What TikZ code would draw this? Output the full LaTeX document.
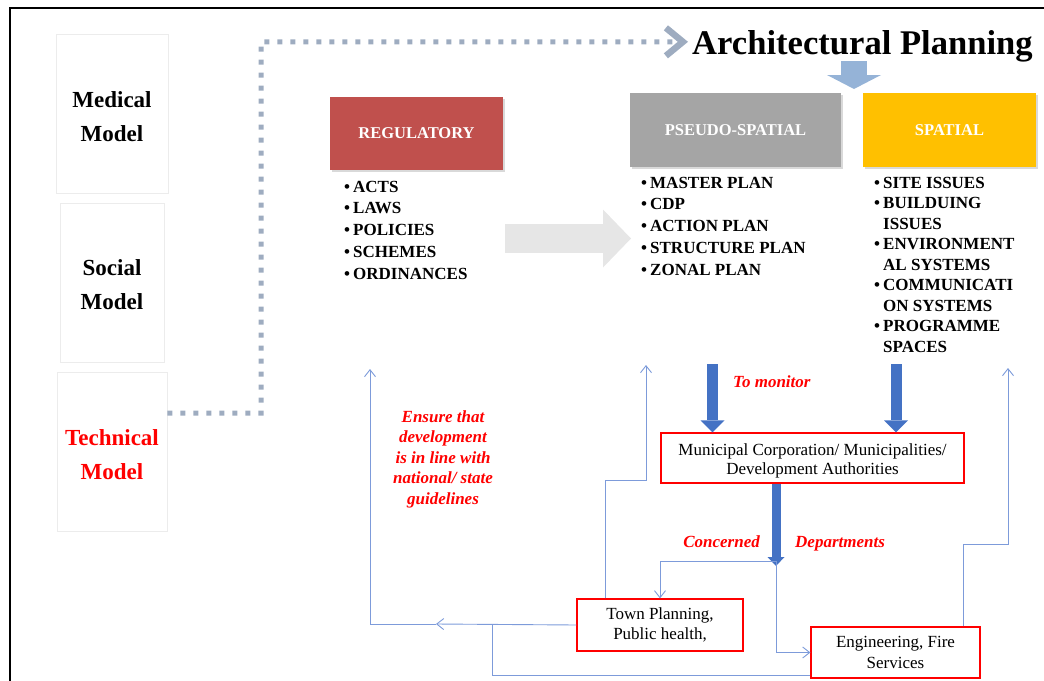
\documentclass[tikz,border=0pt]{standalone}
\usepackage{fontspec}
\setmainfont{Liberation Serif}
\usetikzlibrary{arrows.meta,shadows}
\definecolor{regred}{RGB}{192,80,77}
\definecolor{psgray}{RGB}{165,165,165}
\definecolor{spgold}{RGB}{255,192,0}
\definecolor{dotblue}{RGB}{158,172,192}
\definecolor{ltblue}{RGB}{149,179,215}
\definecolor{arrblue}{RGB}{68,114,196}
\definecolor{arrdark}{RGB}{47,82,143}
\definecolor{thinblue}{RGB}{125,155,218}
\definecolor{boxgray}{RGB}{236,236,236}
\definecolor{arrgray}{RGB}{230,230,230}
\newcommand{\bul}{\makebox[9pt][l]{\textbullet}}
\newcommand{\ind}{\hspace*{9pt}}
\newcommand{\fr}{\rule{0pt}{12pt}}
\begin{document}
\begin{tikzpicture}[x=1pt,y=-1pt,
  modelbox/.style={draw=boxgray, line width=0.8pt, font=\fontsize{23}{34}\selectfont\bfseries, align=center, inner sep=0pt, minimum height=159pt},
  catbox/.style={inner sep=0pt, text=white, font=\fontsize{16.5}{20}\selectfont\bfseries, drop shadow={shadow xshift=1.5pt, shadow yshift=-2pt, opacity=0.3}},
  bullist/.style={inner sep=0pt, anchor=north west, align=left, font=\fontsize{17}{21.7}\selectfont\bfseries},
  redbox/.style={draw=red, line width=1.2pt, inner sep=0pt, align=center, font=\fontsize{17}{20.5}\selectfont},
  redlabel/.style={text=red, inner sep=0pt, font=\fontsize{17}{20.5}\selectfont\bfseries\itshape},
  conn/.style={draw=thinblue, line width=0.9pt},
  tip/.style={-{Straight Barb[length=7pt,width=11pt]}},
  dotline/.style={draw=dotblue, line width=5pt, dash pattern=on 5pt off 8pt},
]
\useasboundingbox (0,0) rectangle (1044,680);
% frame
\draw[line width=2.5pt] (10,681) -- (10,8) -- (1045,8);

% model boxes
\node[modelbox, minimum width=112pt] (med) at (112,113.5) {\rule{0pt}{22pt}Medical\\Model};
\node[modelbox, minimum width=104pt] (soc) at (112,282.5) {\rule{0pt}{21pt}Social\\Model};
\node[modelbox, minimum width=110pt, text=red] (tech) at (112,452) {\rule{0pt}{21pt}Technical\\Model};

% title
\node[inner sep=0pt, anchor=base west, font=\fontsize{34.6}{40}\selectfont\bfseries] (title) at (692,54) {Architectural Planning};

% dotted connector
\coordinate (dtop) at (261,42);
\draw[dotline, -{Straight Barb[length=17pt,width=28pt,line width=6.5pt]}]
  ([yshift=39pt]tech.east) -| (dtop) -- ([xshift=-4pt,yshift=4pt]title.west);

% light blue arrow under title
\coordinate (ttop) at (854,61);
\coordinate (tbot) at (854,89);
\draw[ltblue, line width=26pt, -{Triangle[length=14pt,width=54pt,line width=0pt]}] (ttop) -- (tbot);

% category boxes
\node[catbox, fill=regred, minimum width=173pt, minimum height=73pt] (reg) at (416.5,133.5) {REGULATORY};
\node[catbox, fill=psgray, minimum width=211pt, minimum height=74pt] (pseudo) at (735.5,130) {PSEUDO-SPATIAL};
\node[catbox, fill=spgold, minimum width=173pt, minimum height=74pt] (spat) at (949.5,130) {SPATIAL};

% lists
\node[bullist] (reglist) at (344,180) {\fr\bul ACTS\\\bul LAWS\\\bul POLICIES\\\bul SCHEMES\\\bul ORDINANCES};
\node[bullist] (pslist) at (641,176) {\fr\bul MASTER PLAN\\\bul CDP\\\bul ACTION PLAN\\\bul STRUCTURE PLAN\\\bul ZONAL PLAN};
\node[bullist, font=\fontsize{17}{20.5}\selectfont\bfseries] (splist) at (874,176) {\fr\bul SITE ISSUES\\\bul BUILDUING\\\ind ISSUES\\\bul ENVIRONMENT\\\ind AL SYSTEMS\\\bul COMMUNICATI\\\ind ON SYSTEMS\\\bul PROGRAMME\\\ind SPACES};

% gray arrow
\coordinate (gst) at (505,238.5);
\coordinate (gen) at (631,238.5);
\draw[arrgray, line width=29pt, -{Triangle[length=28pt,width=58pt,line width=0pt]}] (gst) -- (gen);

% municipal and department boxes
\node[redbox, minimum width=303pt, minimum height=50pt, font=\fontsize{17}{19.5}\selectfont] (mun) at (812.5,458) {\rule{0pt}{17.5pt}Municipal Corporation/ Municipalities/\\Development Authorities};
\node[redbox, minimum width=166pt, minimum height=52pt] (town) at (660,625) {Town Planning,\\Public health,};
\node[redbox, minimum width=169pt, minimum height=51pt] (eng) at (895.5,652.5) {Engineering, Fire\\Services};

% blue arrows
\coordinate (mon1) at (712.5,364);
\coordinate (mon2) at (896,364);
\draw[arrblue, line width=11pt, -{Triangle[length=12pt,width=24pt,line width=0pt]}] (mon1) -- ([xshift=-100pt]mun.north);
\draw[arrblue, line width=11pt, -{Triangle[length=12pt,width=24pt,line width=0pt]}] (mon2) -- ([xshift=83.5pt]mun.north);
\coordinate (a3tip) at (776,566);
\coordinate (deptip) at (776,561);
\draw[arrblue, line width=9pt, -{Triangle[length=9pt,width=17pt,line width=0pt]}] ([xshift=-36.5pt]mun.south) -- (a3tip);

% labels
\node[redlabel, anchor=base west] (lmon) at (733,387) {To monitor};
\node[redlabel, anchor=base east] (lcon) at (760,547) {Concerned};
\node[redlabel, anchor=base west] (ldep) at (795,547) {Departments};
\node[redlabel, align=center, anchor=north] (lens) at (443,410) {\fr Ensure that\\development\\is in line with\\national/ state\\guidelines};

% thin connectors
\coordinate (m1) at (436,624);
\coordinate (m2) at (492,624);
\coordinate (regup) at (370,369);
\coordinate (psup) at (646,365);
\coordinate (spup) at (1008,368);
\draw[conn, tip] (town.west) -- (m1);
\draw[conn, tip] (m1) -| (regup);
\draw[conn] ([yshift=-22.5pt]eng.west) -| (m2);
\draw[conn, tip] ([xshift=-55pt]town.north) -- ++(0,-118) -| (psup);
\draw[conn, tip] ([xshift=67.5pt]eng.north) -- ++(0,-82) -| (spup);
\draw[conn, tip] (deptip) -| (town.north);
\draw[conn, tip] (deptip) |- (eng.west);
\end{tikzpicture}
\end{document}
